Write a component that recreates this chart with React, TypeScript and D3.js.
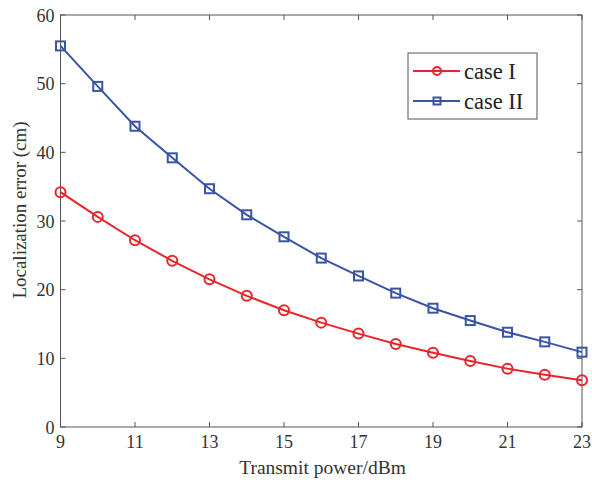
import React from "react";
import * as d3 from "d3";

const power = [9, 10, 11, 12, 13, 14, 15, 16, 17, 18, 19, 20, 21, 22, 23];
const caseI = [34.2, 30.6, 27.2, 24.2, 21.5, 19.1, 17.0, 15.2, 13.6, 12.1, 10.8, 9.6, 8.5, 7.6, 6.8];
const caseII = [55.5, 49.6, 43.8, 39.2, 34.7, 30.9, 27.7, 24.6, 22.0, 19.5, 17.3, 15.5, 13.8, 12.4, 10.9];
const xTicks = [9, 11, 13, 15, 17, 19, 21, 23];
const yTicks = [0, 10, 20, 30, 40, 50, 60];
const seriesNames = ["case I", "case II"];

const W = 592, H = 482;
const L = 60.5, R = 582, T = 15, B = 427;
const RED = "#e8252b";
const BLUE = "#3b53a6";
const AX = "#555";
const FONT = "Liberation Serif, Times New Roman, DejaVu Serif, serif";

export default function App() {
  const x = d3.scaleLinear().domain([9, 23]).range([L, R]);
  const y = d3.scaleLinear().domain([0, 60]).range([B, T]);
  const line = d3.line<number>().x((_, i) => x(power[i])).y((d) => y(d));
  const tl = 5;
  const tf = 18;
  return (
    <svg width={W} height={H} style={{ position: "absolute", left: 0, top: 0, fontFamily: FONT }}>
      <rect x={0} y={0} width={W} height={H} fill="#fff" />
      {xTicks.map((t) => (
        <g key={"x" + t}>
          <line x1={x(t)} x2={x(t)} y1={B} y2={B - tl} stroke={AX} strokeWidth={1} />
          <line x1={x(t)} x2={x(t)} y1={T} y2={T + tl} stroke={AX} strokeWidth={1} />
          <text x={x(t)} y={B + 21} textAnchor="middle" style={{ fontFamily: FONT }} fontSize={tf} fill="#333">{t}</text>
        </g>
      ))}
      {yTicks.map((t) => (
        <g key={"y" + t}>
          <line x1={L} x2={L + tl} y1={y(t)} y2={y(t)} stroke={AX} strokeWidth={1} />
          <line x1={R} x2={R - tl} y1={y(t)} y2={y(t)} stroke={AX} strokeWidth={1} />
          <text x={L - 6} y={y(t) + 6.5} textAnchor="end" style={{ fontFamily: FONT }} fontSize={tf} fill="#333">{t}</text>
        </g>
      ))}
      <rect x={L} y={T} width={R - L} height={B - T} fill="none" stroke={AX} strokeWidth={1} />
      <path d={line(caseI) || ""} fill="none" stroke={RED} strokeWidth={2} />
      <path d={line(caseII) || ""} fill="none" stroke={BLUE} strokeWidth={2} />
      {caseI.map((v, i) => (
        <circle key={"c" + i} cx={x(power[i])} cy={y(v)} r={5} fill="none" stroke={RED} strokeWidth={2} />
      ))}
      {caseII.map((v, i) => (
        <rect key={"s" + i} x={x(power[i]) - 4.5} y={y(v) - 4.5} width={9} height={9} fill="none" stroke={BLUE} strokeWidth={2} />
      ))}
      <text x={322.5} y={474} textAnchor="middle" style={{ fontFamily: FONT }} fontSize={19.5} fill="#333">Transmit power/dBm</text>
      <text transform={`translate(26,210) rotate(-90)`} textAnchor="middle" style={{ fontFamily: FONT }} fontSize={19} fill="#333">Localization error (cm)</text>
      <rect x={408} y={53} width={129} height={66} fill="#fff" stroke={AX} strokeWidth={1} />
      <line x1={413} x2={460} y1={71} y2={71} stroke={RED} strokeWidth={2} />
      <circle cx={437} cy={71} r={4} fill="none" stroke={RED} strokeWidth={2} />
      <text x={464} y={78.5} style={{ fontFamily: FONT }} fontSize={22.5} fill="#222">{seriesNames[0]}</text>
      <line x1={413} x2={460} y1={101} y2={101} stroke={BLUE} strokeWidth={2} />
      <rect x={433.5} y={97.5} width={7} height={7} fill="none" stroke={BLUE} strokeWidth={2} />
      <text x={464} y={109} style={{ fontFamily: FONT }} fontSize={22.5} fill="#222">{seriesNames[1]}</text>
    </svg>
  );
}
